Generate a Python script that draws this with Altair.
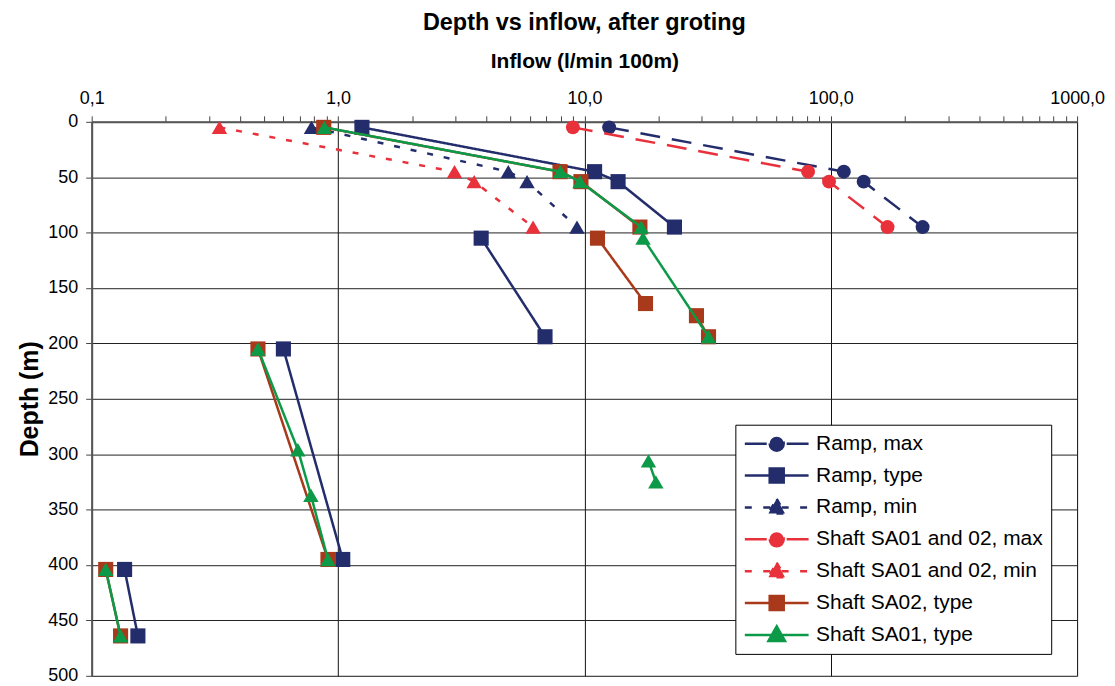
import altair as alt
import pandas as pd

FONT = "Liberation Sans"

# ---------------- data ----------------
series_names = ["Ramp, max", "Ramp, type", "Ramp, min",
                "Shaft SA01 and 02, max", "Shaft SA01 and 02, min",
                "Shaft SA02, type", "Shaft SA01, type"]
series_colors = ["#232d6b", "#232d6b", "#232d6b", "#e8313b", "#e8313b", "#a8391a", "#0d9a48"]
series_dash = [[20, 12], [1, 0], [6, 11], [20, 12], [6, 11], [1, 0], [1, 0]]
legend_dash = [[22, 20], [1, 0], [7, 11.5], [22, 20], [7, 11.5], [1, 0], [1, 0]]
series_marker = ["circle", "square", "triangle-up", "circle", "triangle-up", "square", "triangle-up"]

ramp_max_inflow = [12.6, 113, 136, 236]
ramp_max_depth = [5, 45, 54, 95]

ramp_type_inflow_1 = [1.25, 11.0, 13.7, 23.2]
ramp_type_depth_1 = [5, 45, 54, 95]
ramp_type_inflow_2 = [3.81, 6.92]
ramp_type_depth_2 = [105, 194]
ramp_type_inflow_3 = [0.60, 1.045]
ramp_type_depth_3 = [205, 395]
ramp_type_inflow_4 = [0.136, 0.154]
ramp_type_depth_4 = [404, 464]

ramp_min_inflow = [0.78, 4.91, 5.85, 9.33]
ramp_min_depth = [5, 45, 54, 95]

shaft_max_inflow = [8.98, 80.9, 98.4, 170]
shaft_max_depth = [5, 45, 54, 95]

shaft_min_inflow = [0.33, 2.97, 3.57, 6.19]
shaft_min_depth = [5, 45, 54, 95]

sa02_inflow_1 = [0.875, 7.96, 9.68, 16.8]
sa02_depth_1 = [5, 45, 54, 95]
sa02_inflow_2 = [11.3, 17.7]
sa02_depth_2 = [105, 164]
sa02_inflow_3 = [28.5, 31.9]
sa02_depth_3 = [175, 194]
sa02_inflow_4 = [0.473, 0.91]
sa02_depth_4 = [205, 395]
sa02_inflow_5 = [0.114, 0.131]
sa02_depth_5 = [404, 464]

sa01_inflow_1 = [0.88, 7.99, 9.6, 17.0, 17.3, 31.9]
sa01_depth_1 = [5, 45, 54, 95, 105, 194]
sa01_inflow_2 = [0.473, 0.687, 0.776, 0.91]
sa01_depth_2 = [205, 296, 337, 395]
sa01_inflow_3 = [18.2, 19.5]
sa01_depth_3 = [306, 325]
sa01_inflow_4 = [0.114, 0.131]
sa01_depth_4 = [404, 464]

x_decades = [0.1, 1, 10, 100, 1000]
y_ticks = [0, 50, 100, 150, 200, 250, 300, 350, 400, 450, 500]

segments = {
    "Ramp, max": [(ramp_max_inflow, ramp_max_depth)],
    "Ramp, type": [(ramp_type_inflow_1, ramp_type_depth_1), (ramp_type_inflow_2, ramp_type_depth_2),
                   (ramp_type_inflow_3, ramp_type_depth_3), (ramp_type_inflow_4, ramp_type_depth_4)],
    "Ramp, min": [(ramp_min_inflow, ramp_min_depth)],
    "Shaft SA01 and 02, max": [(shaft_max_inflow, shaft_max_depth)],
    "Shaft SA01 and 02, min": [(shaft_min_inflow, shaft_min_depth)],
    "Shaft SA02, type": [(sa02_inflow_1, sa02_depth_1), (sa02_inflow_2, sa02_depth_2),
                         (sa02_inflow_3, sa02_depth_3), (sa02_inflow_4, sa02_depth_4),
                         (sa02_inflow_5, sa02_depth_5)],
    "Shaft SA01, type": [(sa01_inflow_1, sa01_depth_1), (sa01_inflow_2, sa01_depth_2),
                         (sa01_inflow_3, sa01_depth_3), (sa01_inflow_4, sa01_depth_4)],
}

rows = []
for name, segs in segments.items():
    for si, (xs, ys) in enumerate(segs):
        for xv, yv in zip(xs, ys):
            rows.append({"series": name, "seg": f"{name}-{si}", "inflow": xv, "depth": yv})
df = pd.DataFrame(rows)

# minor + major tick values on the log axis
x_tick_values = []
for d in x_decades[:-1]:
    for k in range(1, 10):
        x_tick_values.append(round(d * k, 6))
x_tick_values.append(x_decades[-1])

decade_test = "abs(log(datum.value)/LN10 - round(log(datum.value)/LN10)) < 0.01"

x_enc = alt.X(
    "inflow:Q",
    scale=alt.Scale(type="log", domain=[0.1, 1000], nice=False),
    axis=alt.Axis(
        orient="top", values=x_tick_values, title="Inflow (l/min 100m)",
        labelExpr=f"({decade_test}) ? replace(format(datum.value, '.1f'), '.', ',') : ''",
        labelOverlap=False, labelFlush=False,
        labelFontSize=18, labelFont=FONT, labelColor="black", labelPadding=8,
        titleFontSize=21, titleFont=FONT, titleFontWeight="bold", titleColor="black", titlePadding=19,
        tickSize=6, tickColor="#444", tickWidth=1,
        domainColor="#555", domainWidth=2,
        grid=True, gridColor="#111", gridWidth=1,
        gridOpacity={"condition": {"test": decade_test, "value": 1}, "value": 0},
    ),
)
y_enc = alt.Y(
    "depth:Q",
    scale=alt.Scale(domain=[0, 500], reverse=True, nice=False),
    axis=alt.Axis(
        values=y_ticks, title="Depth (m)", labelFlush=False,
        labelFontSize=18, labelFont=FONT, labelColor="black", labelPadding=8,
        titleFontSize=25, titleFont=FONT, titleFontWeight="bold", titleColor="black", titlePadding=5,
        tickSize=6, tickColor="#444", tickWidth=1,
        domainColor="#555", domainWidth=2,
        grid=True, gridColor="#222", gridWidth=1,
    ),
)

marker_sizes = {"circle": 196, "square": 230, "triangle-up": 240}

layers = []
for name, color, dash, marker in zip(series_names, series_colors, series_dash, series_marker):
    base = alt.Chart(df).transform_filter(alt.datum.series == name)
    line = base.mark_line(color=color, strokeWidth=2.5, strokeDash=dash).encode(
        x=x_enc, y=y_enc, detail="seg:N", order=alt.Order("depth:Q"))
    pts = base.mark_point(shape=marker, filled=True, opacity=1, color=color,
                          size=marker_sizes[marker]).encode(x=x_enc, y=y_enc)
    layers += [line, pts]

# legend symbols: line segment + marker as custom paths
marker_paths = {
    "circle": "M-1,0H1M0.22,0A0.22,0.22 0 1,1 -0.22,0A0.22,0.22 0 1,1 0.22,0Z",
    "square": "M-1,0H1M-0.22,-0.22H0.22V0.22H-0.22Z",
    "triangle-up": "M-1,0H1M0,-0.27L0.26,0.19L-0.26,0.19Z",
}
legend_paths = [marker_paths[m] for m in series_marker]

leg = alt.Legend(
    title=None, orient="none", legendX=646, legendY=304, direction="vertical",
    padding=8, strokeColor="black", fillColor="white",
    labelFontSize=21, labelFont=FONT, labelColor="black", labelLimit=400,
    symbolOpacity=1, symbolSize=4096, symbolStrokeWidth=2.5, symbolOffset=0,
    labelOffset=6, rowPadding=10, clipHeight=22,
)
legend_layer = alt.Chart(df).transform_filter("false").mark_point(
    filled=True, size=4096, strokeWidth=2.5).encode(
    x=x_enc, y=y_enc,
    fill=alt.Fill("series:N", scale=alt.Scale(domain=series_names, range=series_colors), legend=leg),
    stroke=alt.Stroke("series:N", scale=alt.Scale(domain=series_names, range=series_colors), legend=leg),
    shape=alt.Shape("series:N", scale=alt.Scale(domain=series_names, range=legend_paths), legend=leg),
    strokeDash=alt.StrokeDash("series:N", scale=alt.Scale(domain=series_names, range=legend_dash), legend=leg),
)
layers.append(legend_layer)

chart = alt.layer(*layers).properties(
    width=989, height=556,
    padding={"left": 84, "top": 113, "right": 30, "bottom": 9},
    autosize=alt.AutoSizeParams(type="none"),
    title=alt.TitleParams("Depth vs inflow, after groting", fontSize=23.5, fontWeight="bold",
                          font=FONT, color="black", anchor="middle", frame="group", offset=16),
).configure_view(stroke="#444", strokeWidth=1).configure(background="white")

chart.save("out.html", embed_options={"renderer": "svg", "actions": False})
